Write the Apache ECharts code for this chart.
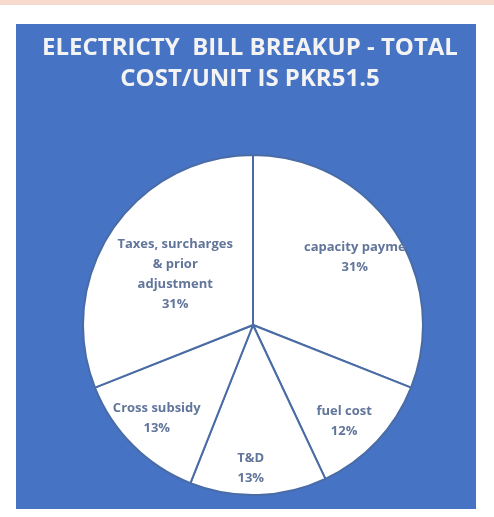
<!DOCTYPE html>
<html><head><meta charset="utf-8">
<script src="https://cdn.jsdelivr.net/npm/echarts@6/dist/echarts.min.js"></script>
<style>html,body{margin:0;padding:0;background:#fff}#c{width:494px;height:517px}</style>
</head><body><div id="c"></div>
<script>
const titleLines = ['ELECTRICTY  BILL BREAKUP - TOTAL', 'COST/UNIT IS PKR51.5'];
const categories = ['capacity payment', 'fuel cost', 'T&D', 'Cross subsidy', 'Taxes, surcharges\n& prior\nadjustment'];
const shares = [31, 12, 13, 13, 31];

// label nudges (style only)
const labelNudge = [[29, -18], [27, 36], [-5, 55], [-34, 31], [-5, -1]];

const chart = echarts.init(document.getElementById('c'), null, {renderer: 'canvas'});
chart.setOption({
  animation: false,
  backgroundColor: '#ffffff',
  graphic: [
    {type: 'rect', z: -10, shape: {x: 0, y: 0, width: 494, height: 5}, style: {fill: '#f8d9ce'}},
    {type: 'rect', z: -10, shape: {x: 16, y: 24, width: 460, height: 485}, style: {fill: '#4673c4'}}
  ],
  title: {
    text: titleLines.join('\n'),
    left: 245,
    textAlign: 'center',
    top: 28,
    textStyle: {
      color: '#f3f3f3', fontFamily: 'Open Sans', fontWeight: 'bold',
      fontSize: 24, lineHeight: 31
    }
  },
  series: [{
    type: 'pie',
    center: [253, 325],
    radius: 170,
    startAngle: 90,
    clockwise: true,
    silent: true,
    avoidLabelOverlap: false,
    data: categories.map((n, i) => {
      const d = {name: n, value: shares[i]};
      if (i === 0) d.label = {width: 109, overflow: 'truncate', ellipsis: ''};
      return d;
    }),
    itemStyle: {color: '#ffffff', borderColor: '#4a6ca6', borderWidth: 2},
    label: {
      show: true,
      position: 'inside',
      formatter: '{b}\n{c}%',
      color: '#62759b',
      fontFamily: 'Open Sans',
      fontWeight: 'bold',
      fontSize: 13,
      lineHeight: 20
    },
    labelLine: {show: false},
    labelLayout: function (p) {
      const n = labelNudge[p.dataIndex];
      return {dx: n[0], dy: n[1]};
    },
    emphasis: {disabled: true}
  }]
});
</script></body></html>
